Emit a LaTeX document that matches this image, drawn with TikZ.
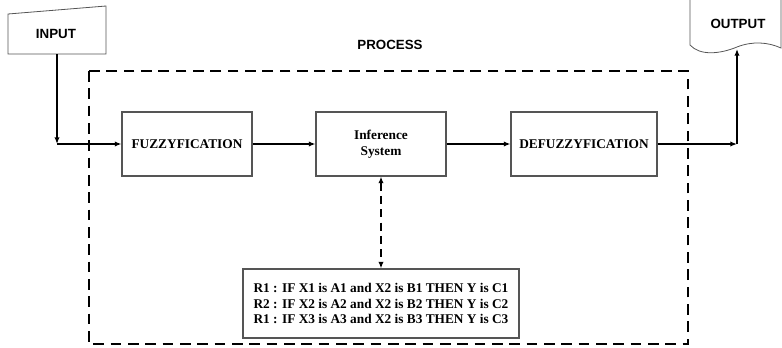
\documentclass[tikz,border=0pt]{standalone}
\usepackage{fontspec}
\setmainfont{Liberation Serif}
\setsansfont{Liberation Sans}
\usetikzlibrary{arrows.meta,positioning}
\definecolor{BoxGray}{HTML}{555555}

\begin{document}
\begin{tikzpicture}[x=0.75pt, y=-0.75pt,
    blockbox/.style={draw=BoxGray, line width=0.8pt, minimum width=97.5pt, minimum height=48pt,
                     align=center, font=\fontsize{10}{12}\selectfont\bfseries},
    iolabel/.style={font=\fontsize{10}{12}\selectfont\sffamily\bfseries},
    flow/.style={line width=1.3pt, -{Latex[length=5pt,width=4pt]}},
    linkdash/.style={line width=1.1pt, dash pattern=on 6pt off 4pt, {Latex[length=5pt,width=4pt]}-{Latex[length=5pt,width=4pt]}}]
  \useasboundingbox (0,0) rectangle (782,347);
  % Process frame
  \draw[line width=1.4pt, dash pattern=on 8pt off 5pt] (89,71) rectangle (688,344);
  \node[iolabel] (process) at (390,45) {PROCESS};
  % Input (manual input shape)
  \draw[draw=BoxGray, line width=0.6pt] (8,14) -- (106,6) -- (106,54) -- (8,54) -- cycle;
  \node[iolabel] (input) at (56,34) {INPUT};
  \coordinate (inBot) at (57,54);
  \coordinate (inCorner) at (57,144);
  % Output (document shape)
  \draw[draw=BoxGray, line width=0.6pt] (690,0) -- (690,45)
    .. controls (700,56) and (720,54) .. (737,47)
    .. controls (752,41) and (768,42) .. (781,48) -- (781,0);
  \node[iolabel] (output) at (738,24) {OUTPUT};
  \coordinate (outBot) at (737,49);
  \coordinate (outCorner) at (737,144);
  % Blocks
  \node[blockbox] (fuzz) at (187,144) {FUZZYFICATION};
  \node[blockbox] (infer) at (381,144) {Inference\\System};
  \node[blockbox, minimum width=109.5pt] (defuzz) at (584,144) {DEFUZZYFICATION};
  \node[blockbox, minimum width=207pt, minimum height=51.75pt, font=\fontsize{10}{11.6}\selectfont\bfseries]
    (rules) at (381,303.5) {R1 : IF X1 is A1 and X2 is B1 THEN Y is C1\\
                            R2 : IF X2 is A2 and X2 is B2 THEN Y is C2\\
                            R1 : IF X3 is A3 and X2 is B3 THEN Y is C3};
  % Connectors
  \draw[flow] (inBot) -- (inCorner);
  \draw[flow] (inCorner) -- (fuzz.west);
  \draw[flow] (fuzz) -- (infer);
  \draw[flow] (infer) -- (defuzz);
  \draw[flow] (defuzz.east) -- (outCorner);
  \draw[flow] (outCorner) -- (outBot);
  \draw[linkdash] (infer) -- (rules);
\end{tikzpicture}
\end{document}
